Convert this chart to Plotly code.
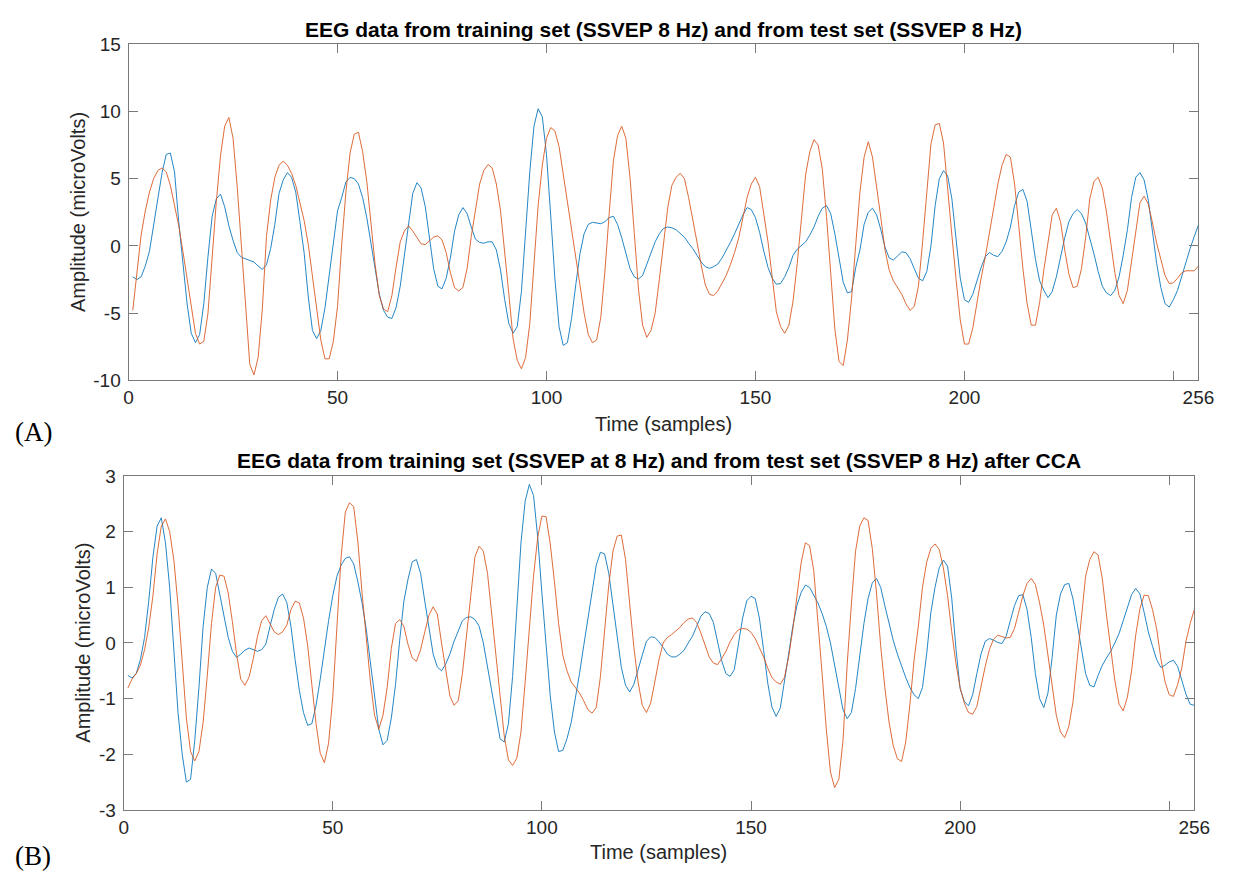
import plotly.graph_objects as go

samples = list(range(1, 257))

# Panel A: training set (blue) and test set (orange), microvolts
train_a = [
    -2.3, -2.5, -2.3, -1.5, -0.4, 1.4, 3.5, 5.4, 6.8, 6.9,
    5.5, 1.8, -1.4, -4.3, -6.5, -7.2, -6.6, -4.3, -0.8, 2.2,
    3.5, 3.85, 2.9, 1.5, 0.4, -0.5, -0.85, -0.95, -1.05, -1.2,
    -1.5, -1.75, -1.4, -0.2, 1.6, 3.9, 4.9, 5.45, 5.1, 4.0,
    1.8, -0.5, -3.8, -6.3, -6.9, -6.3, -4.6, -2.3, 0.3, 2.6,
    3.6, 4.75, 5.1, 5.0, 4.6, 3.6, 2.1, 0.1, -1.9, -3.6,
    -4.8, -5.3, -5.4, -4.6, -3.0, -0.6, 1.9, 3.9, 4.7, 4.3,
    2.9, 0.6, -1.7, -3.0, -3.2, -2.4, -0.9, 1.1, 2.3, 2.85,
    2.4, 1.4, 0.5, 0.25, 0.2, 0.3, 0.3, -0.3, -1.8, -4.0,
    -5.8, -6.5, -6.0, -3.4, 1.3, 5.5, 8.9, 10.2, 9.6, 6.8,
    2.3, -2.4, -6.0, -7.4, -7.2, -5.4, -2.9, -0.6, 0.9, 1.6,
    1.75, 1.7, 1.65, 1.8, 2.1, 2.2, 1.6, 0.6, -0.6, -1.7,
    -2.3, -2.47, -2.2, -1.4, -0.6, 0.3, 0.9, 1.3, 1.4, 1.35,
    1.2, 0.95, 0.65, 0.2, -0.2, -0.7, -1.2, -1.55, -1.67, -1.55,
    -1.35, -0.9, -0.35, 0.25, 0.9, 1.6, 2.3, 2.85, 2.7, 2.1,
    1.0, -0.4, -1.6, -2.4, -2.85, -2.8, -2.3, -1.6, -0.7, -0.25,
    0.0, 0.3, 0.8, 1.4, 2.2, 2.8, 3.0, 2.4, 0.9, -1.0,
    -2.7, -3.5, -3.4, -1.6, -0.3, 1.6, 2.5, 2.8, 2.3, 1.2,
    -0.1, -0.9, -1.05, -0.75, -0.45, -0.5, -0.95, -1.7, -2.4, -2.6,
    -1.9, 0.0, 3.0, 5.0, 5.6, 5.2, 3.5, 0.5, -2.4, -4.0,
    -4.2, -3.6, -2.5, -1.6, -0.8, -0.5, -0.7, -0.8, -0.4, 0.3,
    1.4, 3.0, 4.0, 4.2, 3.3, 1.1, -1.0, -2.6, -3.3, -3.85,
    -3.4, -2.3, -0.8, 0.6, 1.8, 2.4, 2.7, 2.4, 1.7, 0.6,
    -0.6, -1.9, -3.0, -3.5, -3.7, -3.3, -2.3, -0.7, 1.2, 3.6,
    5.1, 5.45, 4.9, 3.4, 1.2, -1.3, -3.1, -4.3, -4.55, -4.0,
    -3.3, -2.2, -1.2, -0.2, 0.7, 1.55,
]

test_a = [
    -4.8, -2.0, 0.8, 2.6, 4.0, 5.0, 5.6, 5.8, 5.5, 4.5,
    2.9, 1.5, -0.4, -2.4, -4.5, -6.5, -7.3, -7.1, -5.0, -0.8,
    3.3, 6.7, 8.9, 9.55, 8.0, 4.4, -0.2, -5.0, -8.8, -9.6,
    -8.3, -4.7, 0.7, 3.4, 5.1, 6.0, 6.3, 6.0, 5.4, 4.5,
    3.3, 1.9, 0.1, -2.2, -4.8, -7.0, -8.4, -8.4, -7.1, -4.5,
    0.1, 4.0, 6.9, 8.3, 8.45, 7.0, 4.8, 1.5, -1.4, -3.7,
    -4.7, -4.9, -3.7, -1.6, 0.3, 1.1, 1.5, 1.1, 0.6, 0.15,
    0.1, 0.4, 0.65, 0.75, 0.45, -0.5, -2.0, -3.1, -3.35, -3.1,
    -1.7, 0.7, 2.8, 4.6, 5.6, 6.05, 5.8, 4.6, 2.6, -0.3,
    -3.6, -6.9, -8.5, -9.15, -8.3, -5.8, -1.6, 3.0, 6.0, 8.0,
    8.8, 8.55, 7.4, 5.4, 3.2, 1.2, -0.8, -2.9, -5.0, -6.6,
    -7.2, -7.0, -5.3, -1.8, 2.4, 6.3, 8.2, 8.9, 8.0, 5.0,
    1.0, -3.2, -5.9, -6.8, -6.3, -5.0, -2.5, 0.2, 2.8, 4.5,
    5.1, 5.4, 5.0, 3.6, 1.8, 0.3, -1.4, -2.9, -3.6, -3.7,
    -3.35, -2.8, -2.2, -1.4, -0.5, 0.6, 2.0, 3.6, 4.6, 5.1,
    4.4, 2.5, 0.3, -2.3, -4.9, -6.0, -6.5, -5.9, -4.1, -1.3,
    2.2, 5.3, 7.0, 7.9, 7.5, 5.7, 2.2, -2.2, -6.2, -8.6,
    -8.9, -7.0, -3.9, 0.1, 4.0, 6.6, 7.75, 6.6, 4.5, 2.1,
    -0.3, -1.8, -2.6, -3.1, -3.6, -4.3, -4.8, -4.5, -3.0, 0.3,
    4.2, 7.6, 9.0, 9.1, 7.65, 4.5, 0.8, -2.5, -5.5, -7.3,
    -7.3, -6.1, -4.2, -2.4, -0.8, 1.1, 2.8, 4.6, 6.0, 6.8,
    6.6, 4.6, 1.5, -1.7, -4.3, -5.9, -5.9, -4.2, -1.8, 0.4,
    2.3, 2.8, 1.8, -0.3, -2.1, -3.1, -3.0, -1.7, 0.6, 3.5,
    4.8, 5.1, 4.3, 2.5, 0.3, -2.0, -3.7, -4.3, -3.3, -1.1,
    1.4, 3.2, 3.7, 3.1, 1.7, 0.2, -1.0, -2.2, -2.8, -2.75,
    -2.4, -2.0, -1.85, -1.85, -1.85, -1.5,
]

# Panel B: after CCA
train_b = [
    -0.58, -0.63, -0.55, -0.3, 0.1, 0.75, 1.55, 2.1, 2.25, 1.8,
    1.0, -0.15, -1.25, -2.0, -2.5, -2.45, -1.75, -0.8, 0.3, 1.0,
    1.33, 1.25, 0.85, 0.45, 0.1, -0.15, -0.26, -0.2, -0.13, -0.09,
    -0.12, -0.15, -0.12, -0.02, 0.3, 0.6, 0.82, 0.88, 0.73, 0.3,
    -0.3, -0.85, -1.25, -1.48, -1.45, -1.12, -0.65, -0.1, 0.4, 0.85,
    1.2, 1.4, 1.52, 1.55, 1.42, 1.1, 0.72, 0.25, -0.35, -0.95,
    -1.55, -1.83, -1.75, -1.35, -0.75, 0.05, 0.75, 1.15, 1.46, 1.5,
    1.25, 0.75, 0.25, -0.2, -0.43, -0.5, -0.38, -0.2, 0.03, 0.23,
    0.4, 0.46, 0.47, 0.42, 0.3, 0.0, -0.45, -0.85, -1.35, -1.72,
    -1.78, -1.45, -0.6, 0.65, 1.8, 2.55, 2.85, 2.65, 1.9, 0.9,
    -0.1, -0.95, -1.6, -1.95, -1.93, -1.72, -1.43, -1.0, -0.55, -0.05,
    0.45, 0.95, 1.4, 1.63, 1.6, 1.25, 0.7, 0.1, -0.44, -0.76,
    -0.88, -0.74, -0.5, -0.22, 0.03, 0.11, 0.1, 0.02, -0.08, -0.2,
    -0.25, -0.25, -0.2, -0.13, 0.0, 0.12, 0.3, 0.48, 0.56, 0.53,
    0.37, 0.03, -0.32, -0.55, -0.6, -0.48, -0.02, 0.45, 0.76, 0.84,
    0.8, 0.45, -0.12, -0.72, -1.15, -1.32, -1.17, -0.72, -0.2, 0.3,
    0.68, 0.91, 1.04, 1.0, 0.87, 0.72, 0.53, 0.3, 0.0, -0.4,
    -0.85, -1.2, -1.36, -1.25, -0.82, -0.22, 0.35, 0.8, 1.08, 1.16,
    1.0, 0.67, 0.33, 0.05, -0.2, -0.43, -0.62, -0.8, -0.93, -1.0,
    -0.8, -0.2, 0.55, 1.0, 1.35, 1.49, 1.38, 0.8, -0.1, -0.82,
    -1.05, -1.13, -0.93, -0.55, -0.2, 0.03, 0.08, 0.05, 0.01, -0.01,
    0.12, 0.4, 0.67, 0.85, 0.87, 0.6, 0.1, -0.55, -1.0, -1.16,
    -0.9, -0.26, 0.5, 0.88, 1.05, 1.07, 0.79, 0.35, -0.12, -0.55,
    -0.76, -0.79, -0.58, -0.4, -0.27, -0.15, 0.0, 0.17, 0.4, 0.65,
    0.87, 0.98, 0.88, 0.55, 0.2, -0.06, -0.3, -0.44, -0.4, -0.34,
    -0.31, -0.42, -0.65, -0.92, -1.1, -1.12,
]

test_b = [
    -0.81, -0.65, -0.55, -0.4, -0.12, 0.28, 0.85, 1.6, 2.1, 2.23,
    2.0, 1.49, 0.68, -0.35, -1.35, -1.95, -2.12, -1.95, -1.43, -0.58,
    0.35, 1.0, 1.22, 1.2, 0.9, 0.38, -0.2, -0.65, -0.76, -0.61,
    -0.28, 0.12, 0.4, 0.49, 0.34, 0.2, 0.15, 0.2, 0.32, 0.6,
    0.75, 0.72, 0.45, -0.05, -0.75, -1.45, -1.98, -2.15, -1.8, -0.97,
    0.3, 1.55, 2.35, 2.52, 2.45, 1.82, 0.9, 0.05, -0.7, -1.3,
    -1.55, -1.3, -0.8, -0.1, 0.35, 0.42, 0.3, -0.03, -0.27, -0.33,
    -0.12, 0.2, 0.5, 0.65, 0.52, 0.0, -0.5, -0.95, -1.12, -1.04,
    -0.55, 0.15, 0.9, 1.55, 1.74, 1.65, 1.25, 0.55, -0.2, -0.95,
    -1.67, -2.1, -2.2, -2.07, -1.6, -0.7, 0.3, 1.2, 1.9, 2.28,
    2.27, 1.78, 1.1, 0.35, -0.22, -0.5, -0.7, -0.8, -0.9, -1.04,
    -1.2, -1.26, -1.16, -0.6, 0.2, 1.05, 1.65, 1.92, 1.94, 1.5,
    0.7, -0.08, -0.7, -1.12, -1.25, -1.08, -0.7, -0.3, 0.0, 0.1,
    0.15, 0.22, 0.28, 0.37, 0.43, 0.45, 0.37, 0.18, -0.05, -0.25,
    -0.36, -0.39, -0.28, -0.15, 0.02, 0.15, 0.24, 0.26, 0.25, 0.19,
    0.08, -0.08, -0.25, -0.45, -0.62, -0.7, -0.74, -0.62, -0.25, 0.25,
    0.85, 1.45, 1.8, 1.75, 1.3, 0.45, -0.55, -1.55, -2.32, -2.6,
    -2.45, -1.75, -0.38, 0.7, 1.65, 2.1, 2.25, 2.2, 1.7, 0.9,
    -0.05, -0.8, -1.42, -1.84, -2.08, -2.13, -1.78, -1.1, -0.3, 0.3,
    1.0, 1.45, 1.7, 1.78, 1.68, 1.35, 0.85, 0.2, -0.37, -0.8,
    -1.08, -1.25, -1.28, -1.14, -0.77, -0.42, -0.12, 0.07, 0.14, 0.12,
    0.09, 0.1, 0.26, 0.55, 0.85, 1.07, 1.16, 1.05, 0.72, 0.32,
    -0.25, -0.8, -1.3, -1.6, -1.7, -1.5, -1.05, -0.3, 0.5, 1.2,
    1.5, 1.64, 1.58, 1.15, 0.5, -0.1, -0.68, -1.1, -1.22, -0.97,
    -0.5, 0.15, 0.62, 0.86, 0.85, 0.6, 0.25, -0.28, -0.7, -0.93,
    -0.96, -0.75, -0.45, 0.03, 0.35, 0.6,
]

x_tickvals = [0, 50, 100, 150, 200, 250, 256]
x_ticktext = ["0", "50", "100", "150", "200", "", "256"]
ya_ticks = [-10, -5, 0, 5, 10, 15]
ya_text = ["-10", "-5", "0", "5", "10", "15"]
yb_ticks = [-3, -2, -1, 0, 1, 2, 3]
yb_text = ["-3", "-2", "-1", "0", "1", "2", "3"]

title_a = "EEG data from training set (SSVEP 8 Hz) and from test set (SSVEP 8 Hz)"
title_b = "EEG data from training set (SSVEP at 8 Hz) and from test set (SSVEP 8 Hz) after CCA"

BLUE = "#0072BD"
ORANGE = "#D95319"
AXC = "#7a7a7a"
FONT = "Liberation Sans, Arial, sans-serif"
TXT = "#262626"

W, H = 1241, 889

def px_x(p):
    return p / W

def px_y(p):
    return 1 - p / H

fig = go.Figure()
line_kw = dict(mode="lines", opacity=0.85, showlegend=False)
fig.add_trace(go.Scatter(x=samples, y=train_a, line=dict(color=BLUE, width=1), xaxis="x", yaxis="y", **line_kw))
fig.add_trace(go.Scatter(x=samples, y=test_a, line=dict(color=ORANGE, width=1), xaxis="x", yaxis="y", **line_kw))
fig.add_trace(go.Scatter(x=samples, y=train_b, line=dict(color=BLUE, width=1), xaxis="x2", yaxis="y2", **line_kw))
fig.add_trace(go.Scatter(x=samples, y=test_b, line=dict(color=ORANGE, width=1), xaxis="x2", yaxis="y2", **line_kw))

common_x = dict(range=[0, 256], tickmode="array", tickvals=x_tickvals, ticktext=x_ticktext,
                ticks="inside", ticklen=9, tickcolor=AXC, tickwidth=1,
                showline=True, linecolor=AXC, linewidth=1, mirror="ticks",
                showgrid=False, zeroline=False,
                tickfont=dict(family=FONT, size=19, color=TXT))
common_y = dict(ticks="inside", ticklen=9, tickcolor=AXC, tickwidth=1,
                showline=True, linecolor=AXC, linewidth=1, mirror="ticks",
                showgrid=False, zeroline=False, ticklabelstandoff=3,
                tickfont=dict(family=FONT, size=19, color=TXT))

ax_a = (125.7, 1214.0, 35.0, 379.3)
ax_b = (120.7, 1209.8, 477.3, 819.3)

fig.update_layout(
    width=W, height=H,
    margin=dict(l=0, r=0, t=0, b=0),
    paper_bgcolor="white", plot_bgcolor="white",
    xaxis=dict(domain=[px_x(ax_a[0]), px_x(ax_a[1])], anchor="y", **common_x),
    yaxis=dict(domain=[px_y(ax_a[3]), px_y(ax_a[2])], anchor="x", range=[-10, 15],
               tickmode="array", tickvals=ya_ticks, ticktext=ya_text, **common_y),
    xaxis2=dict(domain=[px_x(ax_b[0]), px_x(ax_b[1])], anchor="y2", **common_x),
    yaxis2=dict(domain=[px_y(ax_b[3]), px_y(ax_b[2])], anchor="x2", range=[-3, 3],
                tickmode="array", tickvals=yb_ticks, ticktext=yb_text, **common_y),
)

ann = []
# Titles
ann.append(dict(text="<b>" + title_a + "</b>", x=px_x((ax_a[0] + ax_a[1]) / 2), y=px_y(20),
                xref="paper", yref="paper", showarrow=False, xanchor="center", yanchor="middle",
                font=dict(family=FONT, size=21, color="black")))
ann.append(dict(text="<b>" + title_b + "</b>", x=px_x((ax_b[0] + ax_b[1]) / 2), y=px_y(461),
                xref="paper", yref="paper", showarrow=False, xanchor="center", yanchor="middle",
                font=dict(family=FONT, size=21, color="black")))
# x axis titles
ann.append(dict(text="Time (samples)", x=px_x((ax_a[0] + ax_a[1]) / 2), y=px_y(424),
                xref="paper", yref="paper", showarrow=False, xanchor="center", yanchor="middle",
                font=dict(family=FONT, size=20, color=TXT)))
ann.append(dict(text="Time (samples)", x=px_x((ax_b[0] + ax_b[1]) / 2), y=px_y(862),
                xref="paper", yref="paper", showarrow=False, xanchor="center", yanchor="middle",
                font=dict(family=FONT, size=20, color=TXT)))
# y axis titles
ann.append(dict(text="Amplitude (microVolts)", x=px_x(75), y=px_y((ax_a[2] + ax_a[3]) / 2),
                xref="paper", yref="paper", showarrow=False, xanchor="center", yanchor="middle",
                textangle=-90, font=dict(family=FONT, size=20, color=TXT)))
ann.append(dict(text="Amplitude (microVolts)", x=px_x(79), y=px_y((ax_b[2] + ax_b[3]) / 2),
                xref="paper", yref="paper", showarrow=False, xanchor="center", yanchor="middle",
                textangle=-90, font=dict(family=FONT, size=20, color=TXT)))
# Panel labels
ann.append(dict(text="(A)", x=px_x(8), y=px_y(432), xref="paper", yref="paper", showarrow=False,
                xanchor="left", yanchor="middle",
                font=dict(family="Liberation Serif, DejaVu Serif, serif", size=27, color="black")))
ann.append(dict(text="(B)", x=px_x(8), y=px_y(866), xref="paper", yref="paper", showarrow=False,
                xanchor="left", yanchor="middle",
                font=dict(family="Liberation Serif, DejaVu Serif, serif", size=27, color="black")))
fig.update_layout(annotations=ann)

fig.write_html("out.html")
